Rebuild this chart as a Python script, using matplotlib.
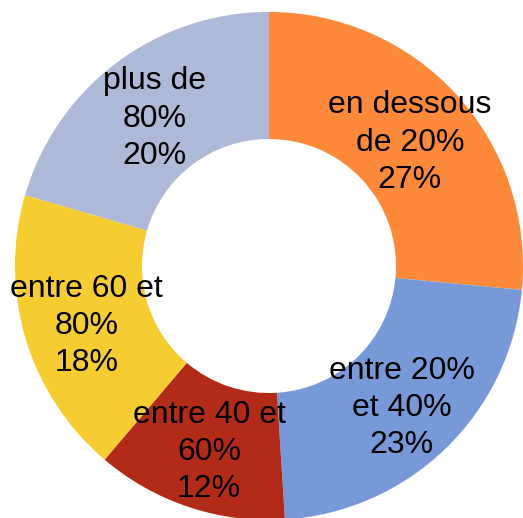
import numpy as np
import matplotlib.pyplot as plt

labels = ["en dessous\nde 20%", "entre 20%\net 40%", "entre 40 et\n60%", "entre 60 et\n80%", "plus de\n80%"]
values = [26.5, 22.5, 12.2, 18.3, 20.5]   # wedge sizes
pct_labels = ["27%", "23%", "12%", "18%", "20%"]
colors = ["#FD893B", "#7799D8", "#B22B18", "#F5CD30", "#ADB9D6"]

plt.rcParams['font.family'] = ['Liberation Sans', 'DejaVu Sans']

fig = plt.figure(figsize=(5.23, 5.18), dpi=100)
ax = fig.add_axes([0, 0, 1, 1])

wedges, _ = ax.pie(values, colors=colors, startangle=90, counterclock=False,
                   radius=1.0, wedgeprops=dict(width=0.5, linewidth=0))

# labels at the middle of each wedge
total = sum(values)
start = 90.0
for lab, v, p in zip(labels, values, pct_labels):
    mid = np.deg2rad(start - v / total * 360 / 2)
    start -= v / total * 360
    ax.text(0.75 * np.cos(mid), 0.75 * np.sin(mid) - 0.02, f"{lab}\n{p}",
            ha="center", va="center", fontsize=23, linespacing=1.32)

ax.set_xlim(-1.059, 1.0)
ax.set_ylim(-0.992, 1.047)
ax.set_aspect("auto")
ax.axis("off")

fig.savefig("out.png", dpi=100)
